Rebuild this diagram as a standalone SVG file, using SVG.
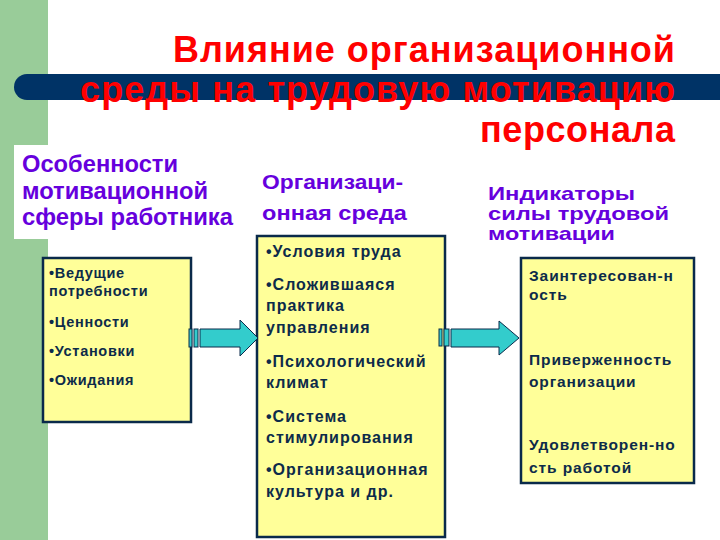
<svg xmlns="http://www.w3.org/2000/svg" width="720" height="540" viewBox="0 0 720 540">
<style>
.title{font-family:"Liberation Sans",Arial,sans-serif;font-weight:bold;font-size:36px;fill:#ff0000}
.hdr{font-family:"Liberation Sans",Arial,sans-serif;font-weight:bold;fill:#6600dd}
.box{fill:#ffff99;stroke:#0a2a4a;stroke-width:2.5}
.bt{font-family:"Liberation Sans",Arial,sans-serif;font-weight:bold;fill:#0d2b4a}
.arr{fill:#33cccc;stroke:#0a2a4a;stroke-width:1}
</style>
<rect x="0" y="0" width="720" height="540" fill="#ffffff"/>
<rect id="green-strip" x="0" y="0" width="48" height="540" fill="#99cc99"/>
<path id="bar" d="M27,74 H720 V100 H27 A13,13 0 0 1 27,74 Z" fill="#003366"/>
<g id="title">
<text class="title" x="173" y="62" textLength="502" lengthAdjust="spacing">Влияние организационной</text>
<text class="title" x="80" y="102" textLength="595" lengthAdjust="spacing">среды на трудовую мотивацию</text>
<text class="title" x="480" y="142" textLength="195" lengthAdjust="spacing">персонала</text>
</g>
<g id="header1">
<rect x="14" y="145" width="223" height="94" fill="#ffffff"/>
<text class="hdr" font-size="24" x="22" y="172" textLength="156" lengthAdjust="spacingAndGlyphs">Особенности</text>
<text class="hdr" font-size="24" x="22" y="199" textLength="186" lengthAdjust="spacingAndGlyphs">мотивационной</text>
<text class="hdr" font-size="24" x="22" y="225" textLength="211" lengthAdjust="spacingAndGlyphs">сферы работника</text>
</g>
<g id="header2">
<text class="hdr" font-size="21" x="262" y="189" textLength="141" lengthAdjust="spacingAndGlyphs">Организаци-</text>
<text class="hdr" font-size="21" x="262" y="220" textLength="145" lengthAdjust="spacingAndGlyphs">онная среда</text>
</g>
<g id="header3">
<text class="hdr" font-size="19" x="488" y="200" textLength="147" lengthAdjust="spacingAndGlyphs">Индикаторы</text>
<text class="hdr" font-size="19" x="488" y="220" textLength="181" lengthAdjust="spacingAndGlyphs">силы трудовой</text>
<text class="hdr" font-size="19" x="488" y="240" textLength="127" lengthAdjust="spacingAndGlyphs">мотивации</text>
</g>
<g id="box1">
<rect class="box" x="43" y="258" width="148" height="164"/>
<g class="bt" font-size="14.5" letter-spacing="0.7">
<text x="49" y="278">•Ведущие</text>
<text x="49" y="296">потребности</text>
<text x="49" y="327">•Ценности</text>
<text x="49" y="356">•Установки</text>
<text x="49" y="385">•Ожидания</text>
</g>
</g>
<g id="box2">
<rect class="box" x="257" y="236" width="188" height="301"/>
<g class="bt" font-size="16" letter-spacing="1">
<text x="266" y="257">•Условия труда</text>
<text x="266" y="290">•Сложившаяся</text>
<text x="266" y="311">практика</text>
<text x="266" y="333">управления</text>
<text x="266" y="367">•Психологический</text>
<text x="266" y="388">климат</text>
<text x="266" y="422">•Система</text>
<text x="266" y="443">стимулирования</text>
<text x="266" y="475">•Организационная</text>
<text x="266" y="497">культура и др.</text>
</g>
</g>
<g id="box3">
<rect class="box" x="521" y="258" width="173" height="225"/>
<g class="bt" font-size="15.5" letter-spacing="0.9">
<text x="529" y="281">Заинтересован-н</text>
<text x="529" y="300">ость</text>
<text x="529" y="365">Приверженность</text>
<text x="529" y="387">организации</text>
<text x="529" y="450">Удовлетворен-но</text>
<text x="529" y="473">сть работой</text>
</g>
</g>
<g id="connectors">
<g id="arrow1">
<rect class="arr" x="189" y="329" width="3" height="18"/>
<rect class="arr" x="194" y="329" width="4" height="18"/>
<path class="arr" d="M200,329 H240 V320 L258,338 L240,356 V347 H200 Z"/>
</g>
<g id="arrow2">
<rect class="arr" x="439" y="329" width="3" height="17"/>
<rect class="arr" x="444" y="329" width="5" height="17"/>
<path class="arr" d="M451,329 H499 V321 L519,338 L499,355 V347 H451 Z"/>
</g>
</g>
</svg>
